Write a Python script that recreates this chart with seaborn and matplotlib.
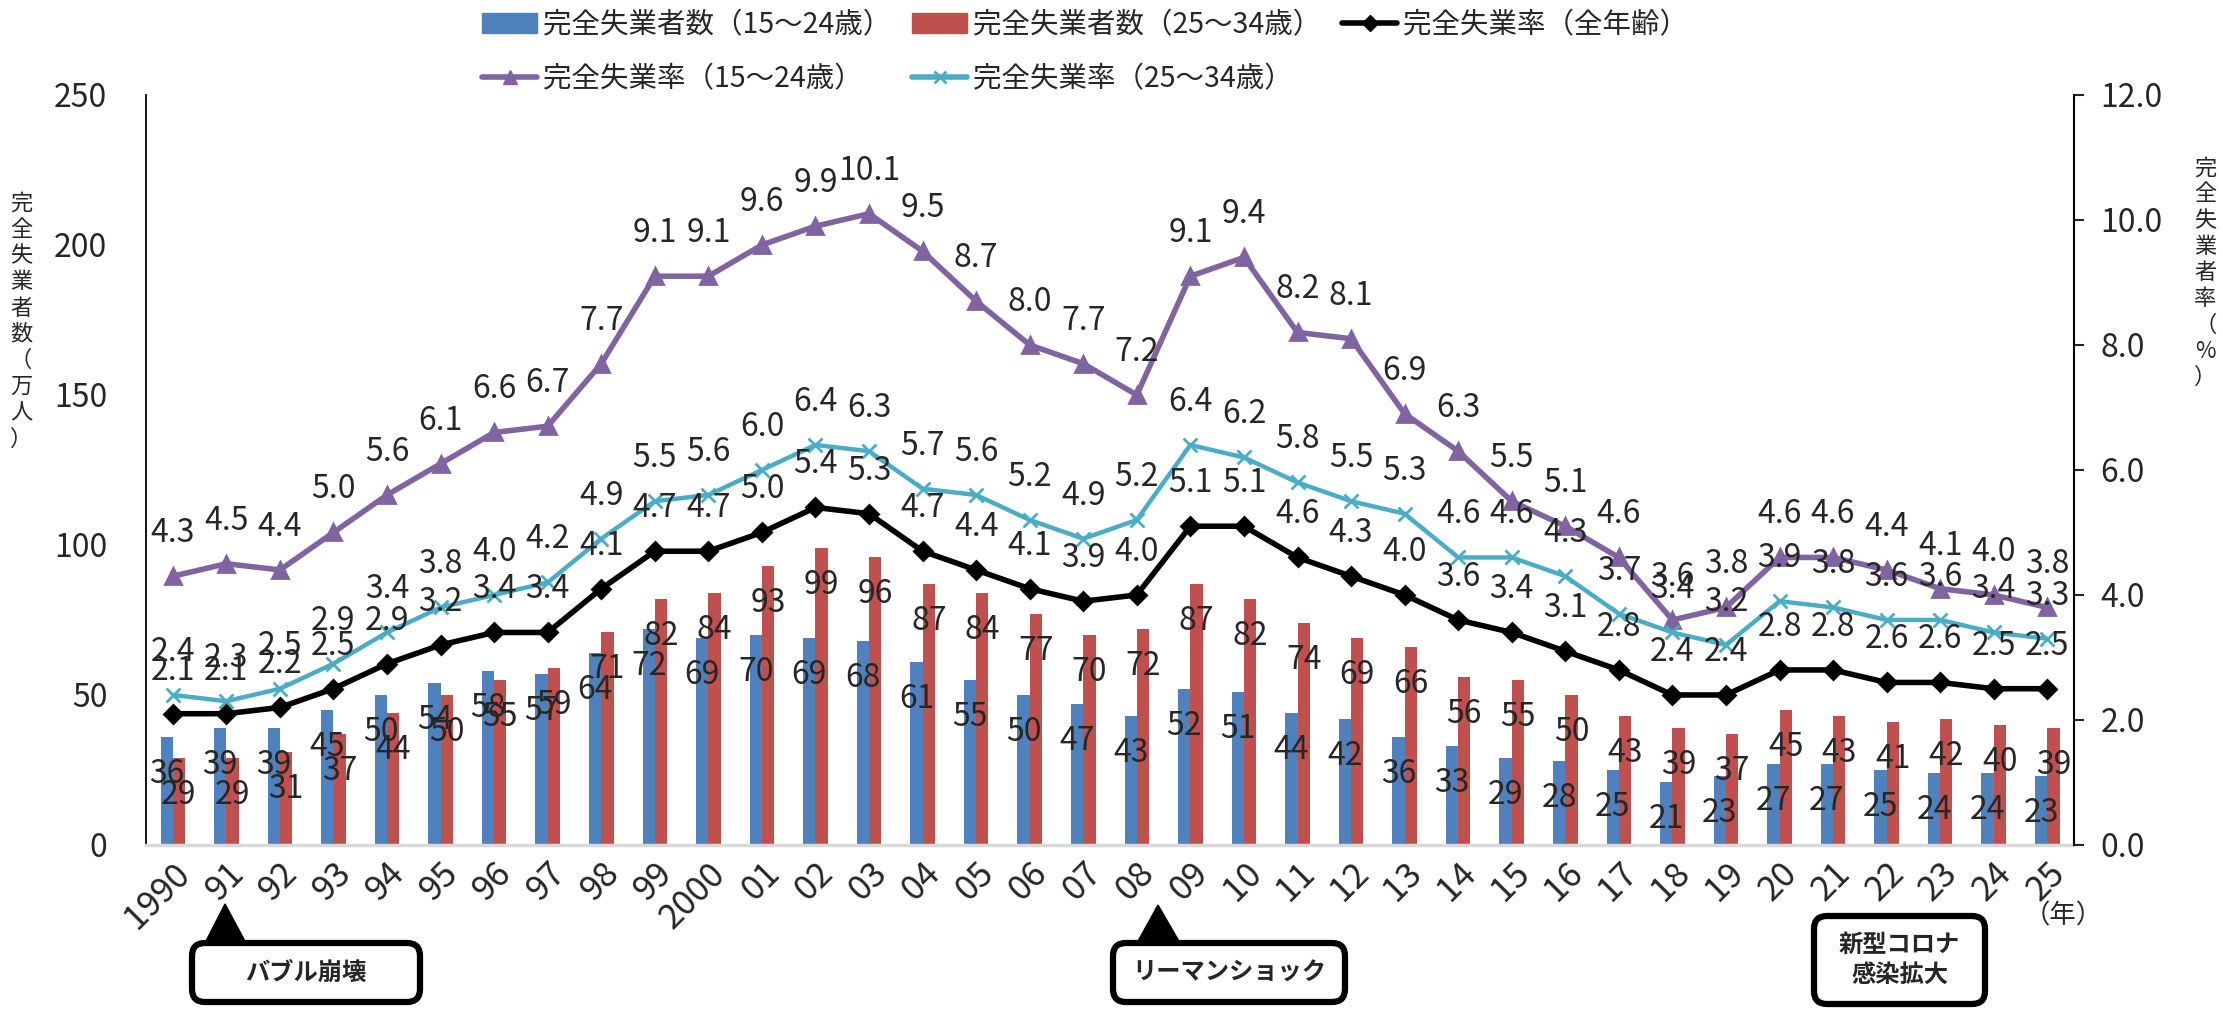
import pandas as pd
import matplotlib.pyplot as plt
import seaborn as sns
import numpy as np
from matplotlib.patches import FancyBboxPatch, Polygon, Patch
from matplotlib.lines import Line2D

# data
years = ["1990", "91", "92", "93", "94", "95", "96", "97", "98", "99",
         "2000", "01", "02", "03", "04", "05", "06", "07", "08", "09",
         "10", "11", "12", "13", "14", "15", "16", "17", "18", "19",
         "20", "21", "22", "23", "24", "25"]
count_15_24 = [36, 39, 39, 45, 50, 54, 58, 57, 64, 72, 69, 70, 69, 68, 61, 55, 50, 47,
               43, 52, 51, 44, 42, 36, 33, 29, 28, 25, 21, 23, 27, 27, 25, 24, 24, 23]
count_25_34 = [29, 29, 31, 37, 44, 50, 55, 59, 71, 82, 84, 93, 99, 96, 87, 84, 77, 70,
               72, 87, 82, 74, 69, 66, 56, 55, 50, 43, 39, 37, 45, 43, 41, 42, 40, 39]
rate_all = [2.1, 2.1, 2.2, 2.5, 2.9, 3.2, 3.4, 3.4, 4.1, 4.7, 4.7, 5.0, 5.4, 5.3, 4.7, 4.4,
            4.1, 3.9, 4.0, 5.1, 5.1, 4.6, 4.3, 4.0, 3.6, 3.4, 3.1, 2.8, 2.4, 2.4, 2.8, 2.8,
            2.6, 2.6, 2.5, 2.5]
rate_15_24 = [4.3, 4.5, 4.4, 5.0, 5.6, 6.1, 6.6, 6.7, 7.7, 9.1, 9.1, 9.6, 9.9, 10.1, 9.5, 8.7,
              8.0, 7.7, 7.2, 9.1, 9.4, 8.2, 8.1, 6.9, 6.3, 5.5, 5.1, 4.6, 3.6, 3.8, 4.6, 4.6,
              4.4, 4.1, 4.0, 3.8]
rate_25_34 = [2.4, 2.3, 2.5, 2.9, 3.4, 3.8, 4.0, 4.2, 4.9, 5.5, 5.6, 6.0, 6.4, 6.3, 5.7, 5.6,
              5.2, 4.9, 5.2, 6.4, 6.2, 5.8, 5.5, 5.3, 4.6, 4.6, 4.3, 3.7, 3.4, 3.2, 3.9, 3.8,
              3.6, 3.6, 3.4, 3.3]

bar_names = ["完全失業者数（15～24歳）", "完全失業者数（25～34歳）"]
line_names = ["完全失業率（全年齢）", "完全失業率（15～24歳）", "完全失業率（25～34歳）"]

BLUE, RED = "#4F81BD", "#C0504D"
PURPLE, CYAN = "#8064A2", "#4BACC6"

sns.set_style("white")
plt.rcParams['font.family'] = ['Noto Sans CJK JP', 'DejaVu Sans']

fig = plt.figure(figsize=(22.23, 10.10), dpi=100)
ax = fig.add_axes([0.0657, 0.1634, 0.8673, 0.7426])
ax2 = ax.twinx()

bars = pd.DataFrame({
    "year": years * 2,
    "count": count_15_24 + count_25_34,
    "series": [bar_names[0]] * len(years) + [bar_names[1]] * len(years),
})
sns.barplot(data=bars, x="year", y="count", hue="series", order=years,
            hue_order=bar_names, palette=[BLUE, RED], width=0.46,
            saturation=1, linewidth=0, legend=False, ax=ax)

for cont, vals in zip(ax.containers, [count_15_24, count_25_34]):
    for p, v in zip(cont.patches, vals):
        ax.annotate(str(v), (p.get_x() + p.get_width() / 2, p.get_height()),
                    xytext=(0, -27), textcoords="offset points",
                    ha="center", va="center", fontsize=23)

pos = np.arange(len(years))
line_specs = [
    (rate_15_24, PURPLE, "^", 11, 4.0),
    (rate_25_34, CYAN, "x", 10, 3.2),
    (rate_all, "black", "D", 9, 4.0),
]
for vals, c, m, ms, lw in line_specs:
    sns.lineplot(x=pos, y=vals, ax=ax2, color=c, marker=m, markersize=ms,
                 linewidth=lw, markeredgecolor=c, markeredgewidth=2, legend=False)
    for i, v in enumerate(vals):
        ax2.annotate(f"{v:.1f}", (i, v), xytext=(0, 31), textcoords="offset points",
                     ha="center", va="center", fontsize=23)

ax.set_xlim(-0.5, len(years) - 0.5)
ax.set_ylim(0, 250)
ax.set_yticks(range(0, 251, 50))
ax2.set_ylim(0, 12)
ax2.set_yticks(np.arange(0, 12.1, 2))
ax2.set_yticklabels([f"{t:.1f}" for t in np.arange(0, 12.1, 2)])
ax.set_xlabel("")
ax.set_ylabel("")
ax2.set_ylabel("")

ax.tick_params(axis="y", length=0, pad=28, labelsize=23)
ax.tick_params(axis="x", length=0, pad=8, labelsize=25)
plt.setp(ax.get_xticklabels(), rotation=45, ha="right", rotation_mode="anchor")
ax2.tick_params(axis="y", direction="out", length=7, width=1.5, pad=12,
                labelsize=23, right=True)

for s in ["top", "right"]:
    ax.spines[s].set_visible(False)
ax.spines["left"].set_color("black")
ax.spines["left"].set_linewidth(1.3)
ax.spines["bottom"].set_color("#D9D9D9")
ax.spines["bottom"].set_linewidth(2.5)
for s in ["top", "left", "bottom"]:
    ax2.spines[s].set_visible(False)
ax2.spines["right"].set_color("black")
ax2.spines["right"].set_linewidth(1.5)

# axis titles written vertically
fig.text(0.0095, 0.682, "\n".join("完全失業者数（万人）"), ha="center", va="center",
         fontsize=16, linespacing=1.18)
fig.text(0.992, 0.73, "\n".join("完全失業者率（%）"), ha="center", va="center",
         fontsize=16, linespacing=1.18)
fig.text(0.928, 0.093, "（年）", ha="center", va="center", fontsize=19)

# legend: matplotlib fills column by column
handles = [Patch(color=BLUE, label=bar_names[0]),
           Line2D([], [], color=PURPLE, lw=4, marker="^", ms=10, label=line_names[1]),
           Patch(color=RED, label=bar_names[1]),
           Line2D([], [], color=CYAN, lw=4, marker="x", ms=9, mew=2, label=line_names[2]),
           Line2D([], [], color="black", lw=4, marker="D", ms=8, label=line_names[0])]
fig.legend(handles=handles, loc="upper left", bbox_to_anchor=(0.217, 0.99),
           ncol=3, frameon=False, fontsize=20.5, borderpad=0, borderaxespad=0,
           handlelength=1.93, handletextpad=0.2, columnspacing=0.74,
           labelspacing=0.85)

# event call-outs (coordinates in pixels from top-left, drawn in inches)
def callout(x0, x1, top, bottom, text, tri=None):
    box = FancyBboxPatch((x0 / 100, (1010 - bottom) / 100), (x1 - x0) / 100,
                         (bottom - top) / 100, boxstyle="round,pad=0,rounding_size=0.13",
                         transform=fig.dpi_scale_trans, facecolor="white",
                         edgecolor="black", linewidth=4.5, clip_on=False)
    fig.patches.append(box)
    if tri is not None:
        apex, bl, br, by = tri
        t = Polygon([(apex[0] / 100, (1010 - apex[1]) / 100), (bl / 100, (1010 - by) / 100),
                     (br / 100, (1010 - by) / 100)], closed=True,
                    transform=fig.dpi_scale_trans, facecolor="black", edgecolor="black")
        fig.patches.append(t)
    fig.text((x0 + x1) / 2 / 2223, 1 - (top + bottom) / 2 / 1010, text, ha="center",
             va="center", fontsize=17.5, fontweight="bold", linespacing=1.3)

callout(192, 420, 943, 1002, "バブル崩壊", ((225, 904), 205, 246, 943))
callout(1113, 1345, 943, 1002, "リーマンショック", ((1158, 905), 1137, 1180, 943))
callout(1814, 1985, 916, 1004, "新型コロナ\n感染拡大")

fig.savefig("out.png", dpi=100)
